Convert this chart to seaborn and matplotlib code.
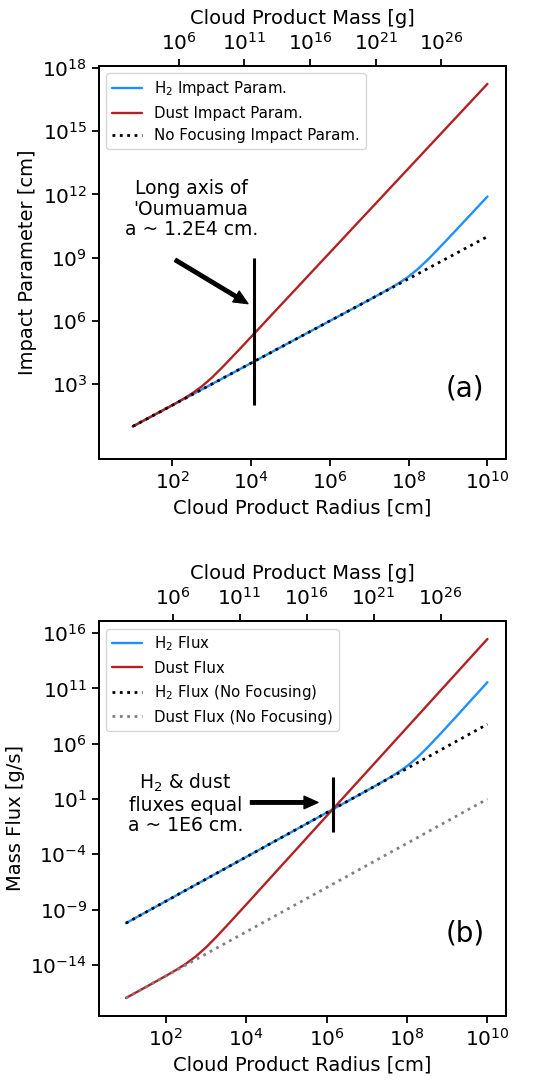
import matplotlib
matplotlib.use("Agg")
import matplotlib.pyplot as plt
import seaborn as sns
from matplotlib.ticker import FixedLocator, NullLocator, LogFormatterSciNotation

# ---------------- data ----------------
radius_cm = [1e1, 1.78e1, 3.16e1, 5.62e1, 1e2, 1.78e2, 3.16e2, 5.62e2,
             1e3, 1.78e3, 3.16e3, 5.62e3, 1e4, 1.78e4, 3.16e4, 5.62e4,
             1e5, 1.78e5, 3.16e5, 5.62e5, 1e6, 1.78e6, 3.16e6, 5.62e6,
             1e7, 1.78e7, 3.16e7, 5.62e7, 1e8, 1.78e8, 3.16e8, 5.62e8,
             1e9, 1.78e9, 3.16e9, 5.62e9, 1e10]

# panel (a): impact parameter [cm]
b_h2 = [1e1, 1.78e1, 3.16e1, 5.62e1, 1e2, 1.78e2, 3.16e2, 5.62e2,
        1e3, 1.78e3, 3.16e3, 5.62e3, 1e4, 1.78e4, 3.16e4, 5.62e4,
        1e5, 1.78e5, 3.16e5, 5.62e5, 1e6, 1.78e6, 3.16e6, 5.62e6,
        1e7, 1.80e7, 3.26e7, 6.16e7, 1.28e8, 3.08e8, 8.55e8, 2.58e9,
        8.0e9, 2.52e10, 7.94e10, 2.51e11, 7.94e11]
b_dust = [1.0e1, 1.78e1, 3.17e1, 5.65e1, 1.01e2, 1.86e2, 3.61e2, 7.87e2,
          2.0e3, 5.78e3, 1.77e4, 5.52e4, 1.74e5, 5.5e5, 1.74e6, 5.5e6,
          1.74e7, 5.5e7, 1.74e8, 5.5e8, 1.74e9, 5.5e9, 1.74e10, 5.5e10,
          1.74e11, 5.5e11, 1.74e12, 5.5e12, 1.74e13, 5.5e13, 1.74e14, 5.5e14,
          1.74e15, 5.5e15, 1.74e16, 5.5e16, 1.74e17]
b_nofocus = [1e1, 1.78e1, 3.16e1, 5.62e1, 1e2, 1.78e2, 3.16e2, 5.62e2,
             1e3, 1.78e3, 3.16e3, 5.62e3, 1e4, 1.78e4, 3.16e4, 5.62e4,
             1e5, 1.78e5, 3.16e5, 5.62e5, 1e6, 1.78e6, 3.16e6, 5.62e6,
             1e7, 1.78e7, 3.16e7, 5.62e7, 1e8, 1.78e8, 3.16e8, 5.62e8,
             1e9, 1.78e9, 3.16e9, 5.62e9, 1e10]

# panel (b): mass flux [g/s]
flux_h2 = [5.89e-11, 1.86e-10, 5.89e-10, 1.86e-9, 5.89e-9, 1.86e-8, 5.89e-8,
           1.86e-7, 5.89e-7, 1.86e-6, 5.89e-6, 1.86e-5, 5.89e-5, 1.86e-4,
           5.89e-4, 1.86e-3, 5.89e-3, 1.86e-2, 5.89e-2, 1.86e-1, 5.89e-1,
           1.86e0, 5.89e0, 1.86e1, 5.92e1, 1.90e2, 6.25e2, 2.24e3, 9.6e3,
           5.57e4, 4.31e5, 3.91e6, 3.77e7, 3.73e8, 3.72e9, 3.72e10, 3.72e11]
flux_dust = [1.0e-17, 3.16e-17, 1.0e-16, 3.19e-16, 1.03e-15, 3.47e-15,
             1.30e-14, 6.19e-14, 4.02e-13, 3.34e-12, 3.12e-11, 3.05e-10,
             3.02e-9, 3.02e-8, 3.02e-7, 3.02e-6, 3.02e-5, 3.02e-4, 3.02e-3,
             3.02e-2, 3.02e-1, 3.02e0, 3.02e1, 3.02e2, 3.02e3, 3.02e4, 3.02e5,
             3.02e6, 3.02e7, 3.02e8, 3.02e9, 3.02e10, 3.02e11, 3.02e12,
             3.02e13, 3.02e14, 3.02e15]
flux_h2_nofocus = [5.89e-11, 1.86e-10, 5.89e-10, 1.86e-9, 5.89e-9, 1.86e-8,
                   5.89e-8, 1.86e-7, 5.89e-7, 1.86e-6, 5.89e-6, 1.86e-5,
                   5.89e-5, 1.86e-4, 5.89e-4, 1.86e-3, 5.89e-3, 1.86e-2,
                   5.89e-2, 1.86e-1, 5.89e-1, 1.86e0, 5.89e0, 1.86e1, 5.89e1,
                   1.86e2, 5.89e2, 1.86e3, 5.89e3, 1.86e4, 5.89e4, 1.86e5,
                   5.89e5, 1.86e6, 5.89e6, 1.86e7, 5.89e7]
flux_dust_nofocus = [1e-17, 3.16e-17, 1e-16, 3.16e-16, 1e-15, 3.16e-15,
                     1e-14, 3.16e-14, 1e-13, 3.16e-13, 1e-12, 3.16e-12,
                     1e-11, 3.16e-11, 1e-10, 3.16e-10, 1e-9, 3.16e-9, 1e-8,
                     3.16e-8, 1e-7, 3.16e-7, 1e-6, 3.16e-6, 1e-5, 3.16e-5,
                     1e-4, 3.16e-4, 1e-3, 3.16e-3, 1e-2, 3.16e-2, 1e-1,
                     3.16e-1, 1e0, 3.16e0, 1e1]

# top-axis conversion: mass [g] = mass_per_r3 * radius^3
mass_per_r3 = 0.32

radius_ticks = [1e2, 1e4, 1e6, 1e8, 1e10]
mass_ticks = [1e6, 1e11, 1e16, 1e21, 1e26]
impact_ticks = [1e3, 1e6, 1e9, 1e12, 1e15, 1e18]
flux_ticks = [1e-14, 1e-9, 1e-4, 1e1, 1e6, 1e11, 1e16]

oumuamua_axis_cm = 1.2e4
equal_flux_radius_cm = 1.45e6

# ---------------- style ----------------
sns.set_style("ticks")
plt.rcParams.update({
    "font.family": ["DejaVu Sans"],
    "axes.linewidth": 1.3,
    "axes.edgecolor": "black",
    "xtick.color": "black",
    "ytick.color": "black",
    "xtick.major.size": 5,
    "ytick.major.size": 5,
    "xtick.major.width": 1.3,
    "ytick.major.width": 1.3,
    "xtick.labelsize": 14.5,
    "ytick.labelsize": 14.5,
    "axes.labelsize": 14,
    "legend.fontsize": 10.8,
    "text.color": "black",
    "axes.labelcolor": "black",
})

BLUE = "#1E90FF"
RED = "#B22222"
LW = 1.7

fig = plt.figure(figsize=(5.43, 10.8), dpi=100)
ax1 = fig.add_axes([0.1823, 0.575, 0.7495, 0.3639])
ax2 = fig.add_axes([0.1823, 0.0593, 0.7495, 0.3657])


def finish_axis(ax, yticks):
    ax.set_xscale("log")
    ax.set_yscale("log")
    ax.xaxis.set_major_locator(FixedLocator(radius_ticks))
    ax.xaxis.set_major_formatter(LogFormatterSciNotation())
    ax.xaxis.set_minor_locator(NullLocator())
    ax.yaxis.set_major_locator(FixedLocator(yticks))
    ax.yaxis.set_major_formatter(LogFormatterSciNotation())
    ax.yaxis.set_minor_locator(NullLocator())
    ax.set_xlabel("Cloud Product Radius [cm]")
    lo, hi = ax.get_xlim()
    top = ax.twiny()
    top.set_xscale("log")
    top.set_xlim(mass_per_r3 * lo ** 3, mass_per_r3 * hi ** 3)
    top.xaxis.set_major_locator(FixedLocator(mass_ticks))
    top.xaxis.set_major_formatter(LogFormatterSciNotation())
    top.xaxis.set_minor_locator(NullLocator())
    top.set_xlabel("Cloud Product Mass [g]", labelpad=6)
    for s in top.spines.values():
        s.set_linewidth(1.3)
        s.set_color("black")
    return top


# ---------------- panel (a) ----------------
sns.lineplot(x=radius_cm, y=b_h2, ax=ax1, color=BLUE, lw=LW,
             label="H$_2$ Impact Param.")
sns.lineplot(x=radius_cm, y=b_dust, ax=ax1, color=RED, lw=LW,
             label="Dust Impact Param.")
sns.lineplot(x=radius_cm, y=b_nofocus, ax=ax1, color="black", lw=2.0,
             linestyle=":", label="No Focusing Impact Param.")
ax1.set_xscale("log")
ax1.set_yscale("log")
ax1.margins(0.05)
ax1.autoscale_view()
ax1.vlines(oumuamua_axis_cm, 1e2, 1e9, color="black", lw=2.2)
ax1.annotate("", xy=(10 ** 3.92, 10 ** 6.82), xytext=(10 ** 2.08, 10 ** 8.89),
             arrowprops=dict(facecolor="black", edgecolor="black", width=2.5,
                             headwidth=9, headlength=10, shrink=0))
ax1.text(10 ** 2.48, 10 ** 11.3, "Long axis of\n'Oumuamua\na ~ 1.2E4 cm.",
         ha="center", va="center", fontsize=13.5, linespacing=1.1)
ax1.text(0.9, 0.18, "(a)", transform=ax1.transAxes, ha="center", va="center",
         fontsize=20)
ax1.set_ylabel("Impact Parameter [cm]")
finish_axis(ax1, impact_ticks)
ax1.legend(loc="upper left", fontsize=10.8)

# ---------------- panel (b) ----------------
sns.lineplot(x=radius_cm, y=flux_h2, ax=ax2, color=BLUE, lw=LW,
             label="H$_2$ Flux")
sns.lineplot(x=radius_cm, y=flux_dust, ax=ax2, color=RED, lw=LW,
             label="Dust Flux")
sns.lineplot(x=radius_cm, y=flux_h2_nofocus, ax=ax2, color="black", lw=2.0,
             linestyle=":", label="H$_2$ Flux (No Focusing)")
sns.lineplot(x=radius_cm, y=flux_dust_nofocus, ax=ax2, color="gray", lw=2.0,
             linestyle=":", label="Dust Flux (No Focusing)")
ax2.set_xscale("log")
ax2.set_yscale("log")
ax2.margins(0.05)
ax2.autoscale_view()
ax2.vlines(equal_flux_radius_cm, 1e-2, 1e3, color="black", lw=2.2)
ax2.annotate("", xy=(10 ** 5.78, 10 ** 0.69), xytext=(10 ** 4.10, 10 ** 0.69),
             arrowprops=dict(facecolor="black", edgecolor="black", width=2.5,
                             headwidth=9, headlength=10, shrink=0))
ax2.text(10 ** 2.48, 10 ** 0.57, "H$_2$ & dust\nfluxes equal\na ~ 1E6 cm.",
         ha="center", va="center", fontsize=13.5, linespacing=1.1)
ax2.text(0.9, 0.21, "(b)", transform=ax2.transAxes, ha="center", va="center",
         fontsize=20)
ax2.set_ylabel("Mass Flux [g/s]")
finish_axis(ax2, flux_ticks)
ax2.legend(loc="upper left", fontsize=10.8)

fig.savefig("out.png", dpi=100)
